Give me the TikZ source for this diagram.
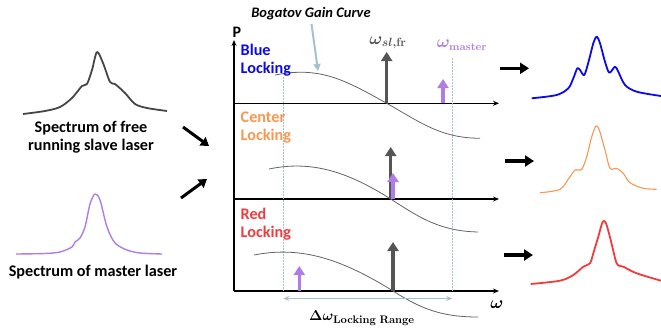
\documentclass[tikz,border=0pt]{standalone}
\usepackage{amsmath}
\usepackage{bm}
\usepackage{fontspec}
\setmainfont{Carlito}
\usetikzlibrary{arrows.meta}
\definecolor{sgray}{RGB}{70,70,70}
\definecolor{agray}{RGB}{85,85,85}
\definecolor{mpurple}{RGB}{175,125,230}
\definecolor{bblue}{RGB}{10,10,235}
\definecolor{oorange}{RGB}{250,150,80}
\definecolor{rred}{RGB}{240,60,60}
\definecolor{lblue}{RGB}{165,192,208}
\definecolor{cgray}{RGB}{100,100,100}
\tikzset{
  lab/.style={font=\bfseries\fontsize{16.2}{18}\selectfont, align=center, inner sep=0pt},
  axis/.style={line width=1.4pt, -{Stealth[length=6pt,width=5pt]}},
  gain/.style={cgray, line width=0.8pt},
  guide/.style={lblue, line width=0.7pt, dash pattern=on 1.5pt off 1.5pt},
  bigarrow/.style={line width=3.5pt, -{Triangle[length=9pt,width=11pt]}},
  fatarrow/.style={line width=3pt, -{Triangle[length=8pt,width=10pt]}},
  spec/.style={line width=1.8pt, line join=round, smooth, tension=0.5}
}
\begin{document}
\begin{tikzpicture}[x=1pt,y=-1pt]
\useasboundingbox (0,0) rectangle (661,335);

% ---- left spectra
\draw[sgray, spec] plot coordinates {(23,114) (45,111) (60,107) (72,98) (82,86) (87,84) (92,70) (97,52) (103,63) (110,82) (115,84) (125,93) (135,104) (147,108) (167,111)};
\node[lab] (slavetxt) at (91,137) {Spectrum of free\\running slave laser};
\draw[mpurple, spec, line width=1.4pt] plot coordinates {(16,254) (45,253.5) (60,252) (72,247) (75,242) (80,238) (85,227) (90,204) (95,194) (100,200) (107,227) (115,243) (127,250) (140,253) (162,254)};
\node[lab] (mastertxt) at (93,272) {Spectrum of master laser};

\coordinate (a1s) at (183,127); \coordinate (a1e) at (209,146);
\coordinate (a2s) at (181,198); \coordinate (a2e) at (207,179);
\draw[fatarrow] (a1s) -- (a1e);
\draw[fatarrow] (a2s) -- (a2e);

% ---- axes
\coordinate (O1) at (234,103.3); \coordinate (E1) at (499,103.3);
\coordinate (O2) at (234,199);   \coordinate (E2) at (499,199);
\coordinate (O3) at (234,291);   \coordinate (E3) at (499,291);
\coordinate (Ptop) at (234,40);
\draw[axis] (O3) -- (Ptop);
\draw[axis] (O1) -- (E1);
\draw[axis] (O2) -- (E2);
\draw[axis] (O3) -- (E3);
\node[font=\bfseries\fontsize{16}{16}\selectfont, inner sep=0pt] (P) at (237,32) {P};
\node[inner sep=0pt] (w) at (497,305) {\fontsize{17}{17}\selectfont$\bm{\omega}$};

% guides
\coordinate (g1t) at (283.3,77); \coordinate (g1b) at (283.3,291);
\coordinate (g2t) at (452.3,58); \coordinate (g2b) at (452.3,291);
\draw[guide] (g1t) -- (g1b);
\draw[guide] (g2t) -- (g2b);

% gain curves
\draw[gain] (275,75) .. controls (320,66) and (345,80) .. (386.7,103.3) .. controls (420,122) and (440,138) .. (480,138.3);
\draw[gain] (269,169) .. controls (312,160) and (348,172) .. (390.7,199) .. controls (420,218) and (440,231) .. (478,232);
\draw[gain] (254,255) .. controls (300,246) and (340,258) .. (393,291) .. controls (420,308) and (440,317) .. (478,317);

% locking labels
\node[lab, bblue, align=left, anchor=west] (blue) at (240.5,60) {Blue\\Locking};
\node[lab, oorange, align=left, anchor=west] (center) at (240.5,128) {Center\\Locking};
\node[lab, rred, align=left, anchor=west] (red) at (240.5,224) {Red\\Locking};

% arrows top
\coordinate (s1b) at (386.7,103.3); \coordinate (s1t) at (386.7,52);
\coordinate (m1b) at (443,103.3);   \coordinate (m1t) at (443,79);
\draw[bigarrow, agray] (s1b) -- (s1t);
\draw[bigarrow, mpurple] (m1b) -- (m1t);
% arrows middle
\coordinate (s2b) at (390.7,199); \coordinate (s2t) at (390.7,147);
\coordinate (m2b) at (393,199);   \coordinate (m2t) at (393,173);
\draw[bigarrow, agray] (s2b) -- (s2t);
\draw[bigarrow, mpurple] (m2b) -- (m2t);
% arrows bottom
\coordinate (s3b) at (393,291); \coordinate (s3t) at (393,242);
\coordinate (m3b) at (299.3,291); \coordinate (m3t) at (299.3,266);
\draw[bigarrow, agray] (s3b) -- (s3t);
\draw[bigarrow, mpurple] (m3b) -- (m3t);

% omega labels
\node[agray, inner sep=0pt] (wsl) at (388,43) {\fontsize{17}{17}\selectfont$\bm{\omega_{sl,\mathbf{fr}}}$};
\node[mpurple, inner sep=0pt] (wm) at (462,45) {\fontsize{16}{16}\selectfont$\bm{\omega_{\mathbf{master}}}$};

% Bogatov
\node[inner sep=0pt, font=\bfseries\itshape\fontsize{14.5}{14.5}\selectfont] (bog) at (311,14) {Bogatov Gain Curve};
\coordinate (bp1) at (311.5,24); \coordinate (bp2) at (318,71);
\draw[lblue, line width=2pt, -{Triangle[length=7pt,width=7pt]}] (bp1) -- (bp2);

% locking range
\coordinate (lr1) at (283.3,298.5); \coordinate (lr2) at (452.3,298.5);
\draw[lblue, line width=1.3pt, {Stealth[length=6pt,width=5pt]}-{Stealth[length=6pt,width=5pt]}] (lr1) -- (lr2);
\node[inner sep=0pt] (dw) at (362,318) {\fontsize{15.5}{15.5}\selectfont$\bm{\Delta\omega_{\mathbf{Locking\ Range}}}$};

% right arrows
\coordinate (r1s) at (500,68.3); \coordinate (r1e) at (529,68.3);
\coordinate (r2s) at (505,161);  \coordinate (r2e) at (534,161);
\coordinate (r3s) at (504,255);  \coordinate (r3e) at (533,255);
\draw[line width=3.5pt, -{Triangle[length=9pt,width=11pt]}] (r1s) -- (r1e);
\draw[line width=3.5pt, -{Triangle[length=9pt,width=11pt]}] (r2s) -- (r2e);
\draw[line width=3.5pt, -{Triangle[length=9pt,width=11pt]}] (r3s) -- (r3e);

% right spectra
\draw[bblue, spec] plot coordinates {(531.7,98.3) (556.7,95) (568.3,88.3) (573.3,78.3) (577.3,68.3) (580,70) (584.3,75) (589,60) (593.3,43.3) (596.7,36.7) (600,43.3) (605,61.7) (609.3,72.7) (615,66.7) (618.3,71.7) (625,85) (636.7,91.7) (661,96)};
\draw[oorange, spec, line width=1.1pt] plot coordinates {(540,192.7) (560,189.3) (570,176.7) (575,170) (581.7,169.3) (586.7,156.7) (591.7,136.7) (596,126) (599.3,130) (605,150) (610,168.3) (616.7,168.3) (623.3,173.3) (630,182.7) (643.3,188.3) (656.7,189.3)};
\draw[rred, spec] plot coordinates {(530.7,284) (560,280.7) (573.3,275) (583.3,266.7) (590,263.3) (593.3,253.3) (598.3,236.7) (602.7,221.7) (606,223.3) (610.7,240) (616.7,263.3) (623.3,266.7) (636.7,273.3) (661,280.7)};
\end{tikzpicture}
\end{document}
